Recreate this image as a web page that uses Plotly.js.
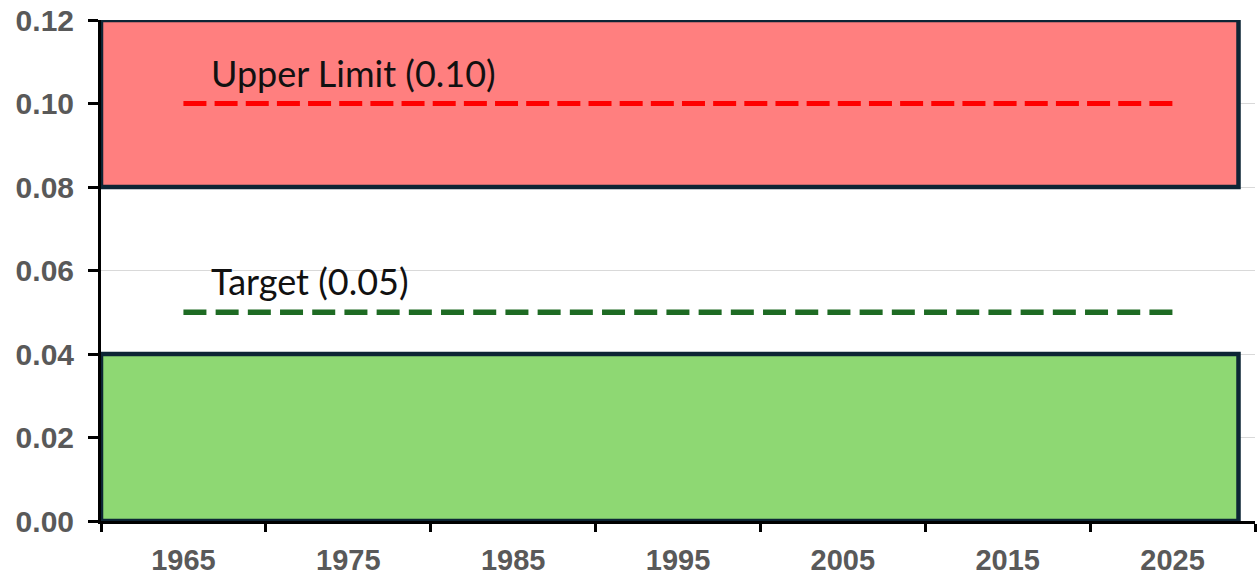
<!DOCTYPE html>
<html>
<head>
<meta charset="utf-8">
<script src="https://cdn.plot.ly/plotly-3.0.1.min.js"></script>
<style>
html,body{margin:0;padding:0;background:#fff;}
#chart{width:1257px;height:577px;}
</style>
</head>
<body>
<div id="chart"></div>
<script>
// ---- data ----
var yearLabels = [1965, 1975, 1985, 1995, 2005, 2015, 2025];
var lineYears = [1965, 2025];
var upperLimit = [0.10, 0.10];
var target = [0.05, 0.05];
var redZone = [0.08, 0.12];
var greenZone = [0.00, 0.04];
var zoneYears = [1960, 2029];
var lineNames = ["Upper Limit (0.10)", "Target (0.05)"];

var traces = [
  {x: lineYears, y: upperLimit, type: 'scatter', mode: 'lines', name: lineNames[0],
   line: {color: '#FF0000', width: 5, dash: '23px,8.16px'}, hoverinfo: 'skip'},
  {x: lineYears, y: target, type: 'scatter', mode: 'lines', name: lineNames[1],
   line: {color: '#1E6B23', width: 5.5, dash: '23px,9.2px'}, hoverinfo: 'skip'},
  {x: yearLabels, y: yearLabels.map(function(){return null;}), xaxis: 'x2', type: 'scatter',
   mode: 'markers', showlegend: false, hoverinfo: 'skip'}
];

var xTickFont = {family: 'Liberation Sans, Arial, sans-serif', size: 29, color: '#595959', weight: 'bold'};
var yTickFont = {family: 'Liberation Sans, Arial, sans-serif', size: 30, color: '#595959', weight: 'bold'};
var noteFont = {family: 'Lato, sans-serif', size: 36, color: '#111111'};

var layout = {
  width: 1257, height: 577,
  margin: {l: 101, r: 2, t: 20, b: 56},
  paper_bgcolor: '#ffffff', plot_bgcolor: '#ffffff',
  showlegend: false,
  xaxis: {
    range: [1960, 2030], tickvals: [1960,1970,1980,1990,2000,2010,2020,2030],
    showticklabels: false, ticks: 'outside', ticklen: 8, tickwidth: 3, tickcolor: '#000',
    showgrid: false, zeroline: false, showline: true, linecolor: '#000', linewidth: 3
  },
  xaxis2: {
    overlaying: 'x', anchor: 'y', side: 'bottom', range: [1960, 2030],
    tickvals: yearLabels, ticktext: yearLabels.map(String), ticks: '',
    showgrid: false, zeroline: false, showline: false,
    tickfont: xTickFont, ticklabelstandoff: 19
  },
  yaxis: {
    range: [0, 0.12], dtick: 0.02, tickformat: '.2f',
    ticks: 'outside', ticklen: 10, tickwidth: 3, tickcolor: '#000',
    showgrid: true, gridcolor: '#D9D9D9', gridwidth: 1,
    zeroline: false, showline: true, linecolor: '#000', linewidth: 3,
    tickfont: yTickFont, ticklabelstandoff: 8
  },
  shapes: [
    {type: 'rect', xref: 'x', yref: 'y', x0: zoneYears[0], x1: zoneYears[1], y0: redZone[0], y1: redZone[1],
     fillcolor: '#FF7F7F', line: {color: '#0D2535', width: 4.5}, layer: 'between'},
    {type: 'rect', xref: 'x', yref: 'y', x0: zoneYears[0], x1: zoneYears[1], y0: greenZone[0], y1: greenZone[1],
     fillcolor: '#8ED873', line: {color: '#0D2535', width: 4.5}, layer: 'between'}
  ],
  annotations: [
    {x: 1966.55, y: upperLimit[0], xref: 'x', yref: 'y', text: lineNames[0], showarrow: false,
     xanchor: 'left', yanchor: 'bottom', yshift: 7, font: noteFont},
    {x: 1966.55, y: target[0], xref: 'x', yref: 'y', text: lineNames[1], showarrow: false,
     xanchor: 'left', yanchor: 'bottom', yshift: 7, font: noteFont}
  ]
};

Plotly.newPlot('chart', traces, layout, {displayModeBar: false, staticPlot: true});
</script>
</body>
</html>
